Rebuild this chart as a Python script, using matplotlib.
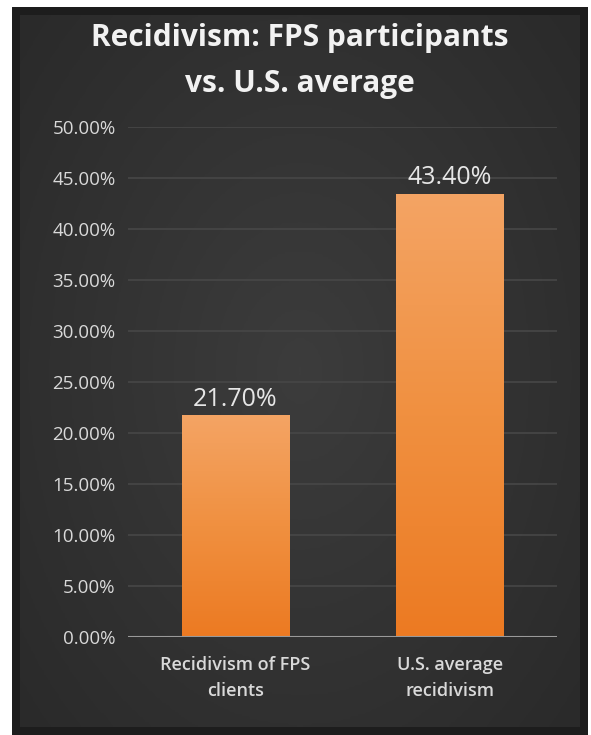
import numpy as np
import matplotlib
matplotlib.use("Agg")
import matplotlib.pyplot as plt
from matplotlib.colors import LinearSegmentedColormap
from matplotlib.patches import Rectangle

categories = ["Recidivism of FPS\nclients", "U.S. average\nrecidivism"]
values = [21.70, 43.40]
yticks = [0, 5, 10, 15, 20, 25, 30, 35, 40, 45, 50]
title = "Recidivism: FPS participants\nvs. U.S. average"

W, H = 591, 735
fig = plt.figure(figsize=(W / 100, H / 100), dpi=100, facecolor="white")

# dark outer frame
frame = fig.add_axes([12 / W, 0, (588 - 12) / W, 1 - 7 / H])
frame.set_axis_off()
frame.add_patch(Rectangle((0, 0), 1, 1, transform=frame.transAxes, color="#1d1d1d"))

# chart area with a soft radial gradient
bg = fig.add_axes([20 / W, 8 / H, (580 - 20) / W, (727 - 15) / H])
bg.set_axis_off()
yy, xx = np.mgrid[-1:1:300j, -1:1:300j]
r = np.sqrt(xx ** 2 + (yy * 0.9) ** 2)
shade = LinearSegmentedColormap.from_list("shade", ["#3c3c3c", "#2a2a2a"])
bg.imshow(np.clip(r / 1.35, 0, 1), cmap=shade, aspect="auto", extent=[0, 1, 0, 1])
bg.set_xlim(0, 1)
bg.set_ylim(0, 1)

fig.text(300 / W, 1 - 61 / H, title, ha="center", va="center", color="#f2f2f2",
         fontsize=21.5, fontweight="bold", family="Open Sans", linespacing=1.72)

# plot area
ax = fig.add_axes([128 / W, 1 - 637 / H, (557 - 128) / W, (637 - 127) / H])
ax.set_facecolor("none")
x = np.arange(len(categories))
ax.set_xlim(-0.5, len(categories) - 0.5)
ax.set_ylim(0, 50)
ax.set_yticks(yticks)
ax.set_yticklabels([f"{t:.2f}%" for t in yticks])
ax.yaxis.grid(True, color="#474747", linewidth=1.2)
ax.set_axisbelow(True)
for s in ax.spines.values():
    s.set_visible(False)
ax.axhline(0, color="#9a9a9a", linewidth=1.5, zorder=3)
ax.tick_params(axis="y", length=0, pad=9, labelsize=13.5, labelcolor="#d9d9d9")
ax.tick_params(axis="x", length=0, pad=14, labelsize=13, labelcolor="#d9d9d9")
ax.set_xticks(x)
ax.set_xticklabels(categories, linespacing=1.55)
for lab in ax.get_xticklabels() + ax.get_yticklabels():
    lab.set_family("Open Sans")
for lab in ax.get_xticklabels():
    lab.set_fontweight("semibold")

bars = ax.bar(x, values, width=0.5, color="none", zorder=2)
grad = LinearSegmentedColormap.from_list("bar", ["#ec7a22", "#f09040", "#f4a464"])
gimg = np.linspace(0, 1, 256).reshape(-1, 1)
for b, v in zip(bars, values):
    x0 = b.get_x()
    ax.imshow(gimg, cmap=grad, aspect="auto", origin="lower",
              extent=[x0, x0 + b.get_width(), 0, v], zorder=2)
    ax.text(x0 + b.get_width() / 2, v + 0.4, f"{v:.2f}%", ha="center", va="bottom",
            color="#e6e6e6", fontsize=18, family="Open Sans")
ax.set_xlim(-0.5, len(categories) - 0.5)
ax.set_ylim(0, 50)

fig.savefig("out.png", dpi=100, facecolor="white")
